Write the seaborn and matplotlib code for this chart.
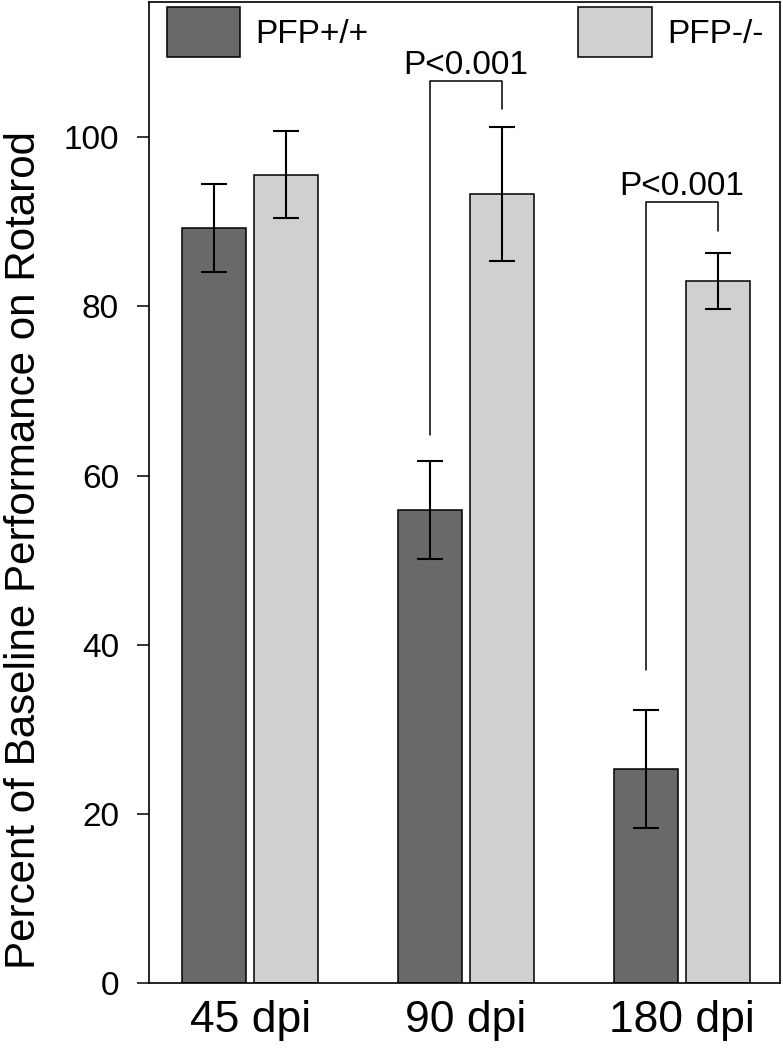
import numpy as np
import pandas as pd
import matplotlib
matplotlib.use("Agg")
import matplotlib.pyplot as plt
import seaborn as sns

# -- values
timepoints = ["45 dpi", "90 dpi", "180 dpi"]
genotypes = ["PFP+/+", "PFP-/-"]
wt_mean = [89.3, 55.9, 25.3]
wt_err = [5.2, 5.8, 7.0]
ko_mean = [95.6, 93.3, 83.0]
ko_err = [5.2, 7.9, 3.3]

# significance brackets: group index, top, left end, right end
sig_group = [1, 2]
sig_top = [106.6, 92.3]
sig_left = [64.8, 37.0]
sig_right = [103.4, 88.9]
sig_text = ["P<0.001", "P<0.001"]

df = pd.DataFrame({
    "dpi": timepoints * 2,
    "genotype": [genotypes[0]] * 3 + [genotypes[1]] * 3,
    "value": wt_mean + ko_mean,
})

sns.set_style("ticks")
plt.rcParams['font.family'] = ['Liberation Sans', 'DejaVu Sans']
plt.rcParams['text.color'] = 'black'
plt.rcParams['axes.labelcolor'] = 'black'
plt.rcParams['xtick.color'] = 'black'
plt.rcParams['ytick.color'] = 'black'

fig = plt.figure(figsize=(7.83, 10.5), dpi=100)
ax = fig.add_axes([149/783, 1 - 983/1050, 631/783, 981/1050])

sns.barplot(data=df, x="dpi", y="value", hue="genotype", order=timepoints,
            hue_order=genotypes, palette=["#696969", "#d0d0d0"],
            width=0.667, gap=0.1, edgecolor="black", linewidth=1.1,
            errorbar=None, ax=ax)

# -- error bars
centers = []
for cont, errs in zip(ax.containers, [wt_err, ko_err]):
    xs = [p.get_x() + p.get_width() / 2 for p in cont]
    ys = [p.get_height() for p in cont]
    centers.append(xs)
    ax.errorbar(xs, ys, yerr=errs, fmt="none", ecolor="black",
                elinewidth=1.5, capsize=9.7, capthick=1.5, zorder=3)

# -- significance brackets
for g, top, le, re, txt in zip(sig_group, sig_top, sig_left, sig_right, sig_text):
    x0, x1 = centers[0][g], centers[1][g]
    ax.plot([x0, x0, x1, x1], [le, top, top, re], color="black", lw=1.1)
    ax.text((x0 + x1) / 2, top + 0.9, txt, ha="center", va="baseline",
            fontsize=24, color="black")

ax.set_xlim(-0.468, 2.454)
ax.set_ylim(0, 116)
ax.set_yticks([0, 20, 40, 60, 80, 100])
ax.tick_params(axis="y", labelsize=24, length=8.6, width=1.1, pad=13)
ax.tick_params(axis="x", labelsize=32, length=0, pad=12)
for s in ax.spines.values():
    s.set_linewidth(1.2)
    s.set_color("black")

ax.set_xlabel("")
ax.set_ylabel("Percent of Baseline Performance on Rotarod", fontsize=30.3)
ax.yaxis.set_label_coords(-0.166, 0.441)

sns.move_legend(ax, "upper left", bbox_to_anchor=(0.0285, 0.995), ncol=2,
                frameon=False, title=None, fontsize=24, handlelength=2.2,
                handleheight=1.95, handletextpad=0.45, columnspacing=6.3,
                borderpad=0, borderaxespad=0)

fig.savefig("out.png", dpi=100)
